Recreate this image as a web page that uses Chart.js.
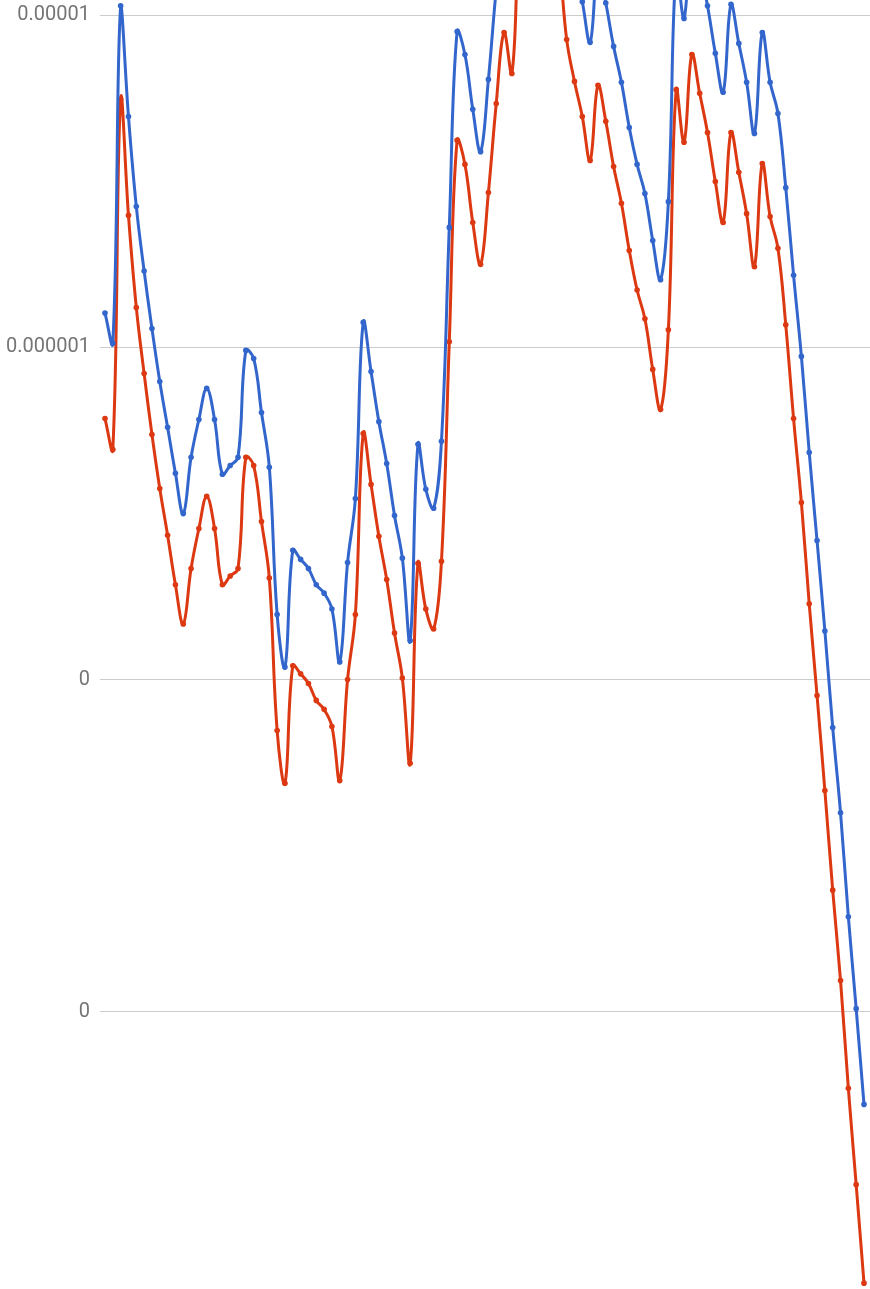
<!DOCTYPE html>
<html>
<head>
<meta charset="utf-8">
<script src="https://cdn.jsdelivr.net/npm/chart.js@4"></script>
<style>
  html, body { margin: 0; padding: 0; background: #fff; overflow: hidden; }
  canvas { display: block; }
</style>
</head>
<body>
<canvas id="chart" width="870" height="1289"></canvas>
<script>
// series values (log scale), one per point, left to right
const blueValues = [
  1.27e-6, 1.03e-6, 1.07e-5, 4.96e-6, 2.66e-6, 1.70e-6, 1.14e-6, 7.90e-7, 5.75e-7, 4.18e-7,
  3.16e-7, 4.67e-7, 6.07e-7, 7.53e-7, 6.07e-7, 4.15e-7, 4.41e-7, 4.67e-7, 9.80e-7, 9.27e-7,
  6.37e-7, 4.36e-7, 1.57e-7, 1.09e-7, 2.45e-7, 2.30e-7, 2.16e-7, 1.93e-7, 1.82e-7, 1.63e-7,
  1.13e-7, 2.25e-7, 3.51e-7, 1.19e-6, 8.47e-7, 5.98e-7, 4.47e-7, 3.12e-7, 2.32e-7, 1.31e-7,
  5.11e-7, 3.74e-7, 3.28e-7, 5.22e-7, 2.30e-6, 8.95e-6, 7.63e-6, 5.22e-6, 3.89e-6, 6.42e-6,
  1.20e-5, 1.96e-5, 1.48e-5, 3.95e-5, 5.22e-5, 5.59e-5, 5.22e-5, 4.53e-5, 3.33e-5, 1.89e-5,
  1.42e-5, 1.10e-5, 8.30e-6, 1.40e-5, 1.09e-5, 8.07e-6, 6.29e-6, 4.60e-6, 3.56e-6, 2.91e-6,
  2.10e-6, 1.60e-6, 2.75e-6, 1.38e-5, 9.80e-6, 1.80e-5, 1.39e-5, 1.07e-5, 7.69e-6, 5.87e-6,
  1.08e-5, 8.24e-6, 6.29e-6, 4.41e-6, 8.89e-6, 6.29e-6, 5.07e-6, 3.03e-6, 1.65e-6, 9.40e-7,
  4.83e-7, 2.62e-7, 1.40e-7, 7.17e-8, 3.97e-8, 1.93e-8, 1.02e-8, 5.25e-9
];
const redValues = [
  6.11e-7, 4.93e-7, 5.59e-6, 2.50e-6, 1.32e-6, 8.35e-7, 5.47e-7, 3.76e-7, 2.72e-7, 1.93e-7,
  1.47e-7, 2.16e-7, 2.85e-7, 3.56e-7, 2.85e-7, 1.93e-7, 2.05e-7, 2.16e-7, 4.67e-7, 4.41e-7,
  2.99e-7, 2.02e-7, 7.02e-8, 4.87e-8, 1.10e-7, 1.04e-7, 9.73e-8, 8.65e-8, 8.13e-8, 7.22e-8,
  4.96e-8, 1.00e-7, 1.57e-7, 5.51e-7, 3.87e-7, 2.70e-7, 2.00e-7, 1.38e-7, 1.01e-7, 5.59e-8,
  2.24e-7, 1.63e-7, 1.42e-7, 2.27e-7, 1.04e-6, 4.21e-6, 3.56e-6, 2.38e-6, 1.78e-6, 2.93e-6,
  5.43e-6, 8.89e-6, 6.69e-6, 1.79e-5, 2.36e-5, 2.53e-5, 2.36e-5, 2.06e-5, 1.50e-5, 8.47e-6,
  6.33e-6, 4.96e-6, 3.66e-6, 6.16e-6, 4.80e-6, 3.51e-6, 2.72e-6, 1.96e-6, 1.49e-6, 1.22e-6,
  8.59e-7, 6.50e-7, 1.13e-6, 5.98e-6, 4.15e-6, 7.63e-6, 5.83e-6, 4.44e-6, 3.16e-6, 2.38e-6,
  4.44e-6, 3.37e-6, 2.53e-6, 1.75e-6, 3.58e-6, 2.48e-6, 1.99e-6, 1.17e-6, 6.11e-7, 3.41e-7,
  1.69e-7, 8.95e-8, 4.63e-8, 2.32e-8, 1.24e-8, 5.87e-9, 3.01e-9, 1.52e-9
];

// y axis ticks and their labels as shown
const tickValues = [1e-5, 1e-6, 1e-7, 1e-8];
const tickLabels = ["0.00001", "0.000001", "0", "0"];

const toPoints = arr => arr.map((v, i) => ({x: i, y: v}));

const ctx = document.getElementById('chart').getContext('2d');
new Chart(ctx, {
  type: 'line',
  data: {
    datasets: [
      {data: toPoints(blueValues), borderColor: '#3366cc', backgroundColor: '#3366cc',
       borderWidth: 3, pointRadius: 2.8, pointBorderWidth: 0, tension: 0.4, fill: false},
      {data: toPoints(redValues), borderColor: '#dc3912', backgroundColor: '#dc3912',
       borderWidth: 3, pointRadius: 2.8, pointBorderWidth: 0, tension: 0.4, fill: false}
    ]
  },
  options: {
    responsive: false,
    animation: false,
    layout: {padding: 0, autoPadding: false},
    plugins: {legend: {display: false}, tooltip: {enabled: false}},
    scales: {
      x: {
        type: 'linear',
        min: -0.639,
        max: 97.767,
        display: false
      },
      y: {
        type: 'logarithmic',
        min: 1.4595e-9,
        max: 1.1134e-5,
        border: {display: false},
        grid: {color: '#cccccc', lineWidth: 1, drawTicks: false},
        ticks: {
          padding: 10,
          color: '#757575',
          font: {family: 'Roboto', size: 20},
          callback: (value, index) => tickLabels[index]
        },
        afterBuildTicks: scale => {
          scale.ticks = tickValues.map(v => ({value: v}));
        },
        afterFit: scale => {
          scale.width = 100;
          scale.paddingTop = 0;
          scale.paddingBottom = 0;
        }
      }
    }
  }
});
</script>
</body>
</html>
